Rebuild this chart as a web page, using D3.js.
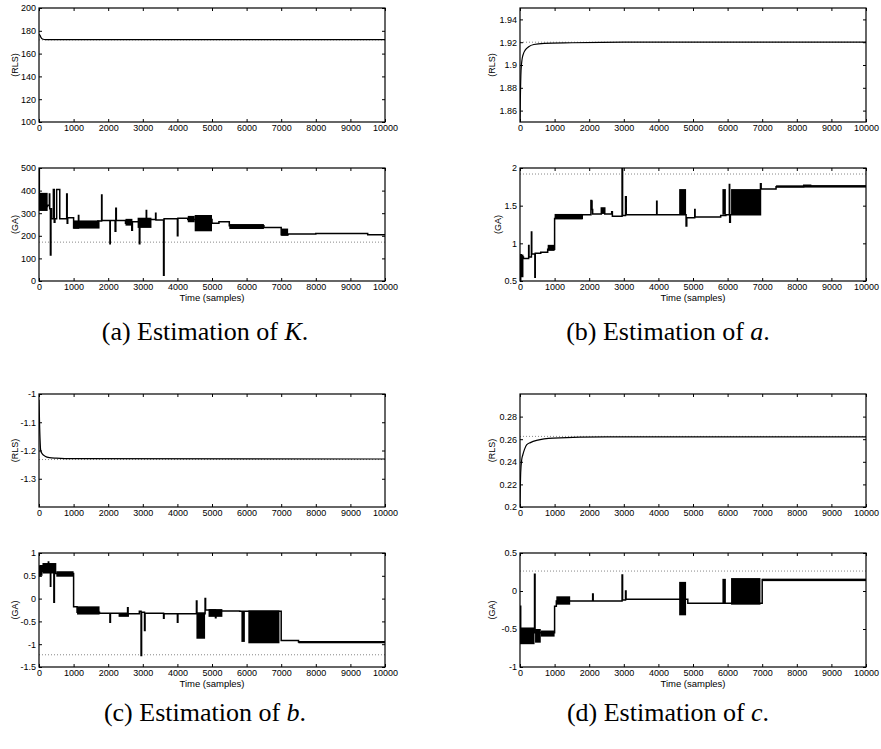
<!DOCTYPE html>
<html>
<head>
<meta charset="utf-8">
<script src="https://cdn.jsdelivr.net/npm/d3@7"></script>
<style>
  body { margin: 0; background: #fff; }
  svg { display: block; }
  .tick text { font-family: "Liberation Sans", Arial, sans-serif; font-size: 9px; fill: #000; }
  .lab { font-family: "Liberation Sans", Arial, sans-serif; font-size: 9px; fill: #000; }
  .cap { font-family: "Liberation Serif", "DejaVu Serif", serif; font-size: 26px; fill: #000; }
</style>
</head>
<body>
<svg id="chart" width="881" height="749"></svg>
<script>
// time axis, shared by every panel
const timeTicks = [0, 1000, 2000, 3000, 4000, 5000, 6000, 7000, 8000, 9000, 10000];

// true parameter values (dotted reference lines)
const trueK = 172, trueA = 1.92, trueB = -1.232, trueC = 0.2625;

// RLS estimates [sample, value]
const rlsK = [[0,177],[30,176],[60,174],[100,172.8],[200,172.3],[500,172.2],[10000,172.2]];
const rlsA = [[0,1.85],[10,1.87],[30,1.895],[60,1.905],[100,1.91],[150,1.913],[250,1.916],[400,1.918],[700,1.919],[1500,1.9195],[3000,1.92],[10000,1.92]];
const rlsB = [[0,-1.02],[20,-1.12],[50,-1.2],[100,-1.213],[175,-1.22],[300,-1.225],[500,-1.227],[1000,-1.229],[10000,-1.23]];
const rlsC = [[0,0.2],[20,0.23],[50,0.242],[80,0.246],[130,0.251],[190,0.255],[300,0.257],[480,0.259],[960,0.261],[2500,0.262],[10000,0.262]];

// GA estimates [sample, value] (held until next sample)
const gaK = [[0,500],[10,330],[250,335],[300,385],[310,320],[330,115],[345,320],[360,275],[415,405],[440,260],[460,275],[510,405],[600,275],[800,385],[815,255],[830,280],[1000,235],[1140,290],[1150,250],[1700,265],[1810,380],[1820,268],[2050,165],[2060,268],[2200,220],[2220,322],[2235,268],[2500,255],[2680,225],[2700,262],[2900,165],[2915,265],[3100,312],[3110,272],[3370,300],[3380,270],[3600,25],[3615,275],[4000,200],[4015,278],[4300,272],[5000,255],[5200,262],[5500,245],[6500,237],[7000,205],[7200,208],[8000,210],[9500,205],[10000,205]];
const gaA = [[0,0.5],[20,0.85],[40,0.6],[60,0.82],[100,0.8],[250,0.97],[260,0.82],[330,1.15],[340,0.86],[430,0.55],[440,0.87],[600,0.88],[800,0.92],[1000,1.33],[1800,1.38],[2050,1.57],[2070,1.45],[2100,1.39],[2350,1.47],[2450,1.39],[2650,1.42],[2670,1.36],[2950,2.0],[2965,1.37],[3050,1.62],[3070,1.38],[3950,1.56],[3960,1.38],[4600,1.38],[4800,1.23],[4820,1.34],[5050,1.45],[5060,1.35],[5800,1.37],[5950,1.38],[6050,1.78],[6060,1.28],[6080,1.38],[6950,1.79],[6970,1.72],[7400,1.75],[8200,1.77],[8400,1.76],[10000,1.75]];
const gaB = [[0,0.5],[30,0.72],[100,0.6],[270,0.8],[280,0.6],[330,0.27],[340,0.58],[430,-0.08],[445,0.55],[1000,-0.18],[1100,-0.3],[1750,-0.32],[2050,-0.52],[2065,-0.32],[2560,-0.2],[2575,-0.33],[2900,-0.28],[2950,-1.25],[2965,-0.3],[3050,-0.7],[3065,-0.32],[3600,-0.43],[3615,-0.33],[4000,-0.52],[4015,-0.33],[4550,-0.05],[4565,-0.33],[4800,0.0],[4815,-0.25],[5100,-0.42],[5115,-0.27],[5800,-0.28],[7000,-0.92],[7500,-0.95],[10000,-0.95]];
const gaC = [[0,-0.2],[20,-0.55],[420,0.22],[435,-0.55],[1000,-0.2],[1050,-0.13],[2100,-0.04],[2115,-0.13],[2950,0.21],[2965,-0.12],[3050,0.0],[3065,-0.11],[4600,-0.11],[4850,-0.16],[5800,-0.16],[7000,0.15],[10000,0.14]];

// dense switching of the GA estimate: [from, to, low, high]
const gaKBands = [[0,250,310,390],[1000,1750,232,268],[2500,2700,245,275],[2850,3250,235,280],[4300,4500,260,288],[4500,5000,220,292],[5500,6500,230,252],[7000,7200,200,232]];
const gaABands = [[0,100,0.55,0.85],[800,1000,0.9,0.98],[1000,1800,1.32,1.39],[2050,2100,1.45,1.57],[2350,2450,1.39,1.47],[4600,4800,1.38,1.72],[5850,5950,1.38,1.72],[6100,6950,1.38,1.72],[7400,10000,1.74,1.77]];
const gaBBands = [[0,100,0.5,0.72],[100,500,0.55,0.78],[500,1000,0.48,0.6],[1100,1750,-0.35,-0.17],[2300,2600,-0.4,-0.33],[4550,4800,-0.88,-0.3],[4900,5300,-0.4,-0.23],[5850,5950,-0.95,-0.28],[6050,6950,-0.98,-0.26],[7500,10000,-0.98,-0.93]];
const gaCBands = [[0,420,-0.7,-0.48],[435,600,-0.68,-0.5],[600,1000,-0.6,-0.52],[1050,1450,-0.18,-0.07],[4600,4800,-0.32,0.12],[5850,5950,-0.17,0.16],[6100,6950,-0.18,0.17],[7000,10000,0.13,0.16]];

// y ticks
const rlsKTicks = [100,120,140,160,180,200], gaKTicks = [0,100,200,300,400,500];
const rlsATicks = [1.86,1.88,1.9,1.92,1.94], gaATicks = [0.5,1,1.5,2];
const rlsBTicks = [-1.3,-1.2,-1.1,-1], gaBTicks = [-1.5,-1,-0.5,0,0.5,1];
const rlsCTicks = [0.2,0.22,0.24,0.26,0.28], gaCTicks = [-1,-0.5,0,0.5];

const captions = ["(a) Estimation of ", "(b) Estimation of ", "(c) Estimation of ", "(d) Estimation of "];
const capVars = ["K", "a", "b", "c"];

const svg = d3.select("#chart");

function panel(o) {
    const g = svg.append("g").attr("transform", "translate(" + o.left + "," + o.top + ")");
    const w = 346, h = o.h;
    const x = d3.scaleLinear().domain([0, 10000]).range([0, w]);
    const y = d3.scaleLinear().domain(o.domain).range([h, 0]);

    const clipId = "clip" + o.id;
    g.append("clipPath").attr("id", clipId).append("rect").attr("width", w).attr("height", h);
    const plot = g.append("g").attr("clip-path", "url(#" + clipId + ")");

    // dotted true value
    plot.append("line")
        .attr("x1", x(0)).attr("x2", x(10000))
        .attr("y1", y(o.truth)).attr("y2", y(o.truth))
        .attr("stroke", "#888").attr("stroke-width", 1).attr("stroke-dasharray", "1,2");

    if (o.bands) {
        plot.selectAll("rect.band").data(o.bands).enter().append("rect")
            .attr("class", "band")
            .attr("x", d => x(d[0]))
            .attr("width", d => Math.max(1, x(d[1]) - x(d[0])))
            .attr("y", d => y(d[3]))
            .attr("height", d => Math.max(1, y(d[2]) - y(d[3])))
            .attr("fill", "#000");
    }

    const line = d3.line().x(d => x(d[0])).y(d => y(d[1]))
        .curve(o.step ? d3.curveStepAfter : d3.curveMonotoneX);
    plot.append("path").datum(o.data)
        .attr("d", line).attr("fill", "none").attr("stroke", "#000")
        .attr("stroke-width", o.step ? 1.5 : 1.2);

    // axes, ticks pointing inward like the matlab box
    g.append("g").attr("transform", "translate(0," + h + ")")
        .call(d3.axisBottom(x).tickValues(timeTicks).tickSize(-3).tickPadding(3).tickFormat(d3.format("d")));
    g.append("g")
        .call(d3.axisTop(x).tickValues(timeTicks).tickSize(-3).tickFormat(""));
    g.append("g")
        .call(d3.axisLeft(y).tickValues(o.ticks).tickSize(-3).tickPadding(3).tickFormat(d => String(d)));
    g.append("g").attr("transform", "translate(" + w + ",0)")
        .call(d3.axisRight(y).tickValues(o.ticks).tickSize(-3).tickFormat(""));
    g.selectAll(".domain").remove();
    g.selectAll(".tick line").attr("stroke", "#000");

    g.append("rect").attr("width", w).attr("height", h)
        .attr("fill", "none").attr("stroke", "#000").attr("stroke-width", 1.2);

    g.append("text").attr("class", "lab")
        .attr("transform", "translate(" + (o.labX - o.left) + "," + (h / 2) + ") rotate(-90)")
        .attr("text-anchor", "middle").attr("dy", "0.35em")
        .text(o.label);

    if (o.xlabel) {
        g.append("text").attr("class", "lab")
            .attr("x", w / 2).attr("y", h + 20)
            .attr("text-anchor", "middle")
            .style("font-size", "9.5px")
            .text("Time (samples)");
    }
}

panel({id: 1, left: 39, top: 8, h: 114, domain: [100, 200], ticks: rlsKTicks, data: rlsK, truth: trueK, label: "(RLS)", labX: 15});
panel({id: 2, left: 39, top: 168, h: 113, domain: [0, 500], ticks: gaKTicks, data: gaK, bands: gaKBands, step: true, truth: trueK, label: "(GA)", labX: 15, xlabel: true});
panel({id: 3, left: 520, top: 8, h: 114, domain: [1.85, 1.95], ticks: rlsATicks, data: rlsA, truth: trueA, label: "(RLS)", labX: 492});
panel({id: 4, left: 520, top: 168, h: 113, domain: [0.5, 2], ticks: gaATicks, data: gaA, bands: gaABands, step: true, truth: trueA, label: "(GA)", labX: 498, xlabel: true});
panel({id: 5, left: 39, top: 394, h: 113, domain: [-1.4, -1], ticks: rlsBTicks, data: rlsB, truth: trueB, label: "(RLS)", labX: 15});
panel({id: 6, left: 39, top: 553, h: 114, domain: [-1.5, 1], ticks: gaBTicks, data: gaB, bands: gaBBands, step: true, truth: trueB, label: "(GA)", labX: 15, xlabel: true});
panel({id: 7, left: 520, top: 394, h: 113, domain: [0.2, 0.3], ticks: rlsCTicks, data: rlsC, truth: trueC, label: "(RLS)", labX: 492});
panel({id: 8, left: 520, top: 553, h: 114, domain: [-1, 0.5], ticks: gaCTicks, data: gaC, bands: gaCBands, step: true, truth: trueC, label: "(GA)", labX: 492, xlabel: true});

// sub-figure captions
const capPos = [[205, 340], [668, 340], [205, 721], [668, 721]];
captions.forEach(function(c, i) {
    const t = svg.append("text").attr("class", "cap")
        .attr("x", capPos[i][0]).attr("y", capPos[i][1])
        .attr("text-anchor", "middle");
    t.append("tspan").text(c);
    t.append("tspan").attr("font-style", "italic").text(capVars[i]);
    t.append("tspan").text(".");
});
</script>
</body>
</html>
